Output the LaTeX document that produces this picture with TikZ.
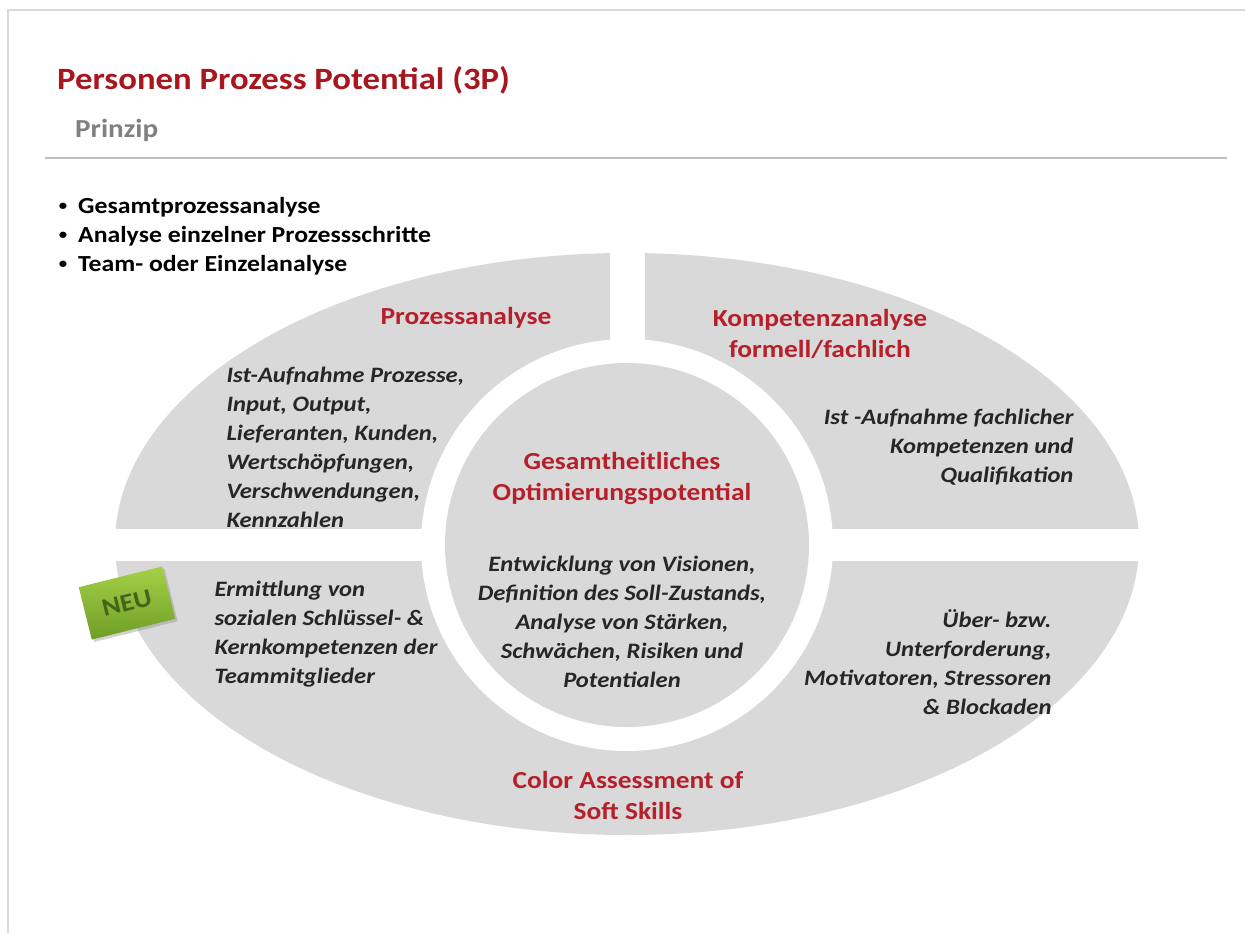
\documentclass[tikz,border=0pt]{standalone}
\usepackage{fontspec}
\setmainfont{Carlito}[FakeStretch=1.12]
\usetikzlibrary{positioning, shadows}

\definecolor{segGray}{HTML}{D9D9D9}
\definecolor{headRed}{HTML}{B5202B}
\definecolor{titleRed}{HTML}{A8161E}
\definecolor{neuTop}{HTML}{A5D046}
\definecolor{neuBot}{HTML}{6E9E28}
\definecolor{neuText}{HTML}{3E6817}

\tikzset{
  seg/.style={fill=segGray, draw=none},
  gap/.style={fill=white, draw=none},
  head/.style={align=center, text=headRed, font=\bfseries\fontsize{24.5}{31}\selectfont},
  body/.style={font=\bfseries\itshape\fontsize{22}{29}\selectfont, text=black!85},
  bulletitem/.style={anchor=west, inner sep=0pt, font=\bfseries\fontsize{23}{29}\selectfont}
}

\begin{document}
\begin{tikzpicture}[x=1pt, y=-1pt]

\useasboundingbox (0,0) rectangle (1245,933);
\fill [white] (0,0) rectangle (1245,933);
\draw [line width=2pt, draw=black!15] (1245,10) -- (8,10) -- (8,933);

\node [anchor=west, inner sep=0pt, text=titleRed, font=\bfseries\fontsize{31}{36}\selectfont] (title) at (57,80) {Personen Prozess Potential (3P)};
\node [anchor=west, inner sep=0pt, text=black!50, font=\bfseries\fontsize{26}{30}\selectfont] (prinzip) at (75,130) {Prinzip};
\draw [line width=1.5pt, draw=black!25] (45,158) -- (1227,158);

\foreach \y/\txt [count=\i] in {207/Gesamtprozessanalyse, 236/Analyse einzelner Prozessschritte, 265/Team- oder Einzelanalyse}
{
	\node [bulletitem] (item\i) at (78,\y) {\txt};
	\node [bulletitem, anchor=center, font=\bfseries\fontsize{15}{18}\selectfont] (dot\i) at (63,\y) {\textbullet};
}

\fill [seg] (627,544) ellipse [x radius=512, y radius=291];
\fill [gap] (100,529) rectangle (1160,561);
\fill [gap] (610,240) rectangle (645,545);
\fill [gap] (627,545) circle [radius=206];
\fill [seg] (627,545) circle [radius=182];

\node [head] (prozess) at (466,318) {Prozessanalyse};
\node [head] (kompetenz) at (820,334) {Kompetenzanalyse\\formell/fachlich};
\node [body, align=left, anchor=west] (prozesstext) at (223,447) {Ist-Aufnahme Prozesse,\\Input, Output,\\Lieferanten, Kunden,\\Wertschöpfungen,\\Verschwendungen,\\Kennzahlen};
\node [body, align=right, anchor=east] (kompetenztext) at (1077,447) {Ist -Aufnahme fachlicher\\Kompetenzen und\\Qualifikation};

\node [head] (gesamt) at (622,478) {Gesamtheitliches\\Optimierungspotential};
\node [body, align=center] (gesamttext) at (622,622) {Entwicklung von Visionen,\\Definition des Soll-Zustands,\\Analyse von Stärken,\\Schwächen, Risiken und\\Potentialen};

\node [body, align=left, anchor=west] (colortext) at (211,634) {Ermittlung von\\sozialen Schlüssel- \&\\Kernkompetenzen der\\Teammitglieder};
\node [body, align=right, anchor=east] (belastung) at (1055,662) {Über- bzw.\\Unterforderung,\\Motivatoren, Stressoren\\\& Blockaden};
\node [head] (color) at (628,795) {Color Assessment of\\Soft Skills};

\node [rotate=14, minimum width=86pt, minimum height=54pt, top color=neuTop, bottom color=neuBot, drop shadow={opacity=0.35}, text=neuText, font=\bfseries\fontsize{25}{28}\selectfont] (neu) at (127,603) {NEU};

\end{tikzpicture}
\end{document}
